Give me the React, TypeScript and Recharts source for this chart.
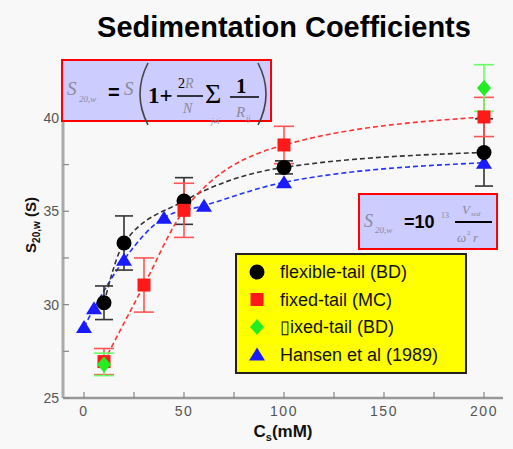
import React from 'react';
import { ComposedChart, Line, XAxis, YAxis, ErrorBar } from 'recharts';

// flexible-tail (BD)
const flexX = [10, 20, 50, 100, 200];
const flexY = [30.1, 33.3, 35.55, 37.35, 38.15];
const flexErr = [0.9, 1.45, 1.25, 0.35, 1.8];

// fixed-tail (MC)
const mcX = [10, 30, 50, 100, 200];
const mcY = [26.95, 31.05, 35.05, 38.55, 40.05];
const mcErr = [0.7, 1.45, 1.45, 1.0, 1.05];

// fixed-tail (BD)
const bdX = [10, 200];
const bdY = [26.8, 41.6];
const bdErr = [0.6, 1.25];

// Hansen et al (1989)
const hanX = [0, 5, 20, 40, 60, 100, 200];
const hanY = [28.8, 29.8, 32.4, 34.65, 35.3, 36.55, 37.6];

const xTicks = [0, 25, 50, 75, 100, 125, 150, 175, 200];
const xLabels = [0, 50, 100, 150, 200];
const yTicks = [25, 27.5, 30, 32.5, 35, 37.5, 40, 42.5];
const yLabels = [25, 30, 35, 40];

const legendNames = ['flexible-tail (BD)', 'fixed-tail (MC)', '\u25AFixed-tail (BD)', 'Hansen et al (1989)'];

const toRows = (xs: number[], ys: number[], es?: number[]) =>
  xs.map((x, i) => ({ x, y: ys[i], e: es ? es[i] : 0 }));

const flexData = toRows(flexX, flexY, flexErr);
const mcData = toRows(mcX, mcY, mcErr);
const bdData = toRows(bdX, bdY, bdErr);
const hanData = toRows(hanX, hanY);

const FONT = '"Liberation Sans", Arial, sans-serif';
const SERIF = '"Liberation Serif", "Times New Roman", serif';

function Marker({ kind, cx, cy, color }: { kind: string; cx: number; cy: number; color: string }) {
  if (kind === 'circle') return <circle cx={cx} cy={cy} r={7.5} fill={color} />;
  if (kind === 'square') return <rect x={cx - 6.5} y={cy - 6.5} width={13} height={13} fill={color} />;
  if (kind === 'diamond')
    return <polygon points={`${cx},${cy - 8} ${cx + 7},${cy} ${cx},${cy + 8} ${cx - 7},${cy}`} fill={color} />;
  return <polygon points={`${cx},${cy - 7} ${cx + 8},${cy + 6} ${cx - 8},${cy + 6}`} fill={color} />;
}

const dotOf = (kind: string, color: string) => (p: any) =>
  <Marker key={`${kind}-${p.index}`} kind={kind} cx={p.cx} cy={p.cy} color={color} />;

const BottomTick = (p: any) => {
  const { x, y, payload } = p;
  return (
    <g>
      <line x1={x} y1={y} x2={x} y2={y - 6} stroke="#888" strokeWidth={1.2} />
      {xLabels.includes(payload.value) && (
        <text x={x} y={y + 18} textAnchor="middle" fontSize={14} letterSpacing={1.5} fill="#555" fontFamily={FONT}>
          {payload.value}
        </text>
      )}
    </g>
  );
};

const TopTick = (p: any) => <line x1={p.x} y1={p.y} x2={p.x} y2={p.y + 6} stroke="#888" strokeWidth={1.2} />;

const LeftTick = (p: any) => {
  const { x, y, payload } = p;
  return (
    <g>
      <line x1={x} y1={y} x2={x + 6} y2={y} stroke="#888" strokeWidth={1.2} />
      {yLabels.includes(payload.value) && (
        <text x={x - 4} y={y + 5} textAnchor="end" fontSize={14} fill="#555" fontFamily={FONT}>
          {payload.value}
        </text>
      )}
    </g>
  );
};

const RightTick = (p: any) => <line x1={p.x} y1={p.y} x2={p.x - 6} y2={p.y} stroke="#888" strokeWidth={1.2} />;

function Overlay() {
  const grey = '#8a8a9a';
  const legendKinds = [
    ['circle', '#000000'],
    ['square', '#ff1a1a'],
    ['diamond', '#22ee22'],
    ['triangle', '#1a1aff'],
  ];
  return (
    <svg width={513} height={449} style={{ position: 'absolute', left: 0, top: 0, pointerEvents: 'none' }}>
      <text x={284} y={37} textAnchor="middle" fontSize={29} fontWeight="bold" fill="#000" fontFamily={FONT}>
        Sedimentation Coefficients
      </text>

      {/* axis titles */}
      <text x={283} y={437} textAnchor="middle" fontSize={17} fontWeight="bold" fill="#111" fontFamily={FONT}>
        C<tspan fontSize={11} dy={4}>s</tspan>
        <tspan dy={-4}>(mM)</tspan>
      </text>
      <text
        transform="translate(36,225) rotate(-90)"
        textAnchor="middle"
        fontSize={15}
        fontWeight="bold"
        fill="#111"
        fontFamily={FONT}
      >
        S<tspan fontSize={10} dy={4}>20,w</tspan>
        <tspan dy={-4}> (S)</tspan>
      </text>

      {/* formula 1 */}
      <rect x={62} y={60} width={209} height={61} fill="#ccccff" stroke="#ff0000" strokeWidth={2} />
      <text x={67} y={95} fontSize={19} fontStyle="italic" fill={grey} fontFamily={SERIF}>S</text>
      <text x={79} y={102} fontSize={9} fontStyle="italic" fill={grey} fontFamily={SERIF}>20,w</text>
      <text x={108} y={99} fontSize={20} fontWeight="bold" fill="#000" fontFamily={FONT}>=</text>
      <text x={124} y={95} fontSize={19} fontStyle="italic" fill={grey} fontFamily={SERIF}>S</text>
      <path d="M148,63 Q132,94 148,125" fill="none" stroke="#444" strokeWidth={1.6} />
      <text x={148} y={103} fontSize={23} fontWeight="bold" fill="#000" fontFamily={SERIF}>1+</text>
      <text x={178} y={88} fontSize={14} fill="#000" fontFamily={SERIF}>2</text>
      <text x={185} y={88} fontSize={14} fontStyle="italic" fill={grey} fontFamily={SERIF}>R</text>
      <line x1={177} y1={96} x2={203} y2={96} stroke="#000" strokeWidth={1.5} />
      <text x={183} y={113} fontSize={14} fontStyle="italic" fill={grey} fontFamily={SERIF}>N</text>
      <text x={205} y={103} fontSize={28} fill="#000" fontFamily={SERIF}>&#931;</text>
      <text x={211} y={124} fontSize={8} fontStyle="italic" fill={grey} fontFamily={SERIF}>j&#8800;i</text>
      <text x={236} y={93} fontSize={21} fontWeight="bold" fill="#000" fontFamily={SERIF}>1</text>
      <line x1={230} y1={97} x2={259} y2={97} stroke="#000" strokeWidth={1.5} />
      <text x={236} y={117} fontSize={15} fontStyle="italic" fill={grey} fontFamily={SERIF}>R</text>
      <text x={246} y={121} fontSize={8} fontStyle="italic" fill={grey} fontFamily={SERIF}>ij</text>
      <path d="M258,63 Q274,94 258,125" fill="none" stroke="#444" strokeWidth={1.6} />

      {/* formula 2 */}
      <rect x={359} y={194} width={138} height={55} fill="#ccccff" stroke="#ff0000" strokeWidth={2} />
      <text x={364} y={227} fontSize={18} fontStyle="italic" fill={grey} fontFamily={SERIF}>S</text>
      <text x={375} y={233} fontSize={9} fontStyle="italic" fill={grey} fontFamily={SERIF}>20,w</text>
      <text x={404} y={228} fontSize={18} fontWeight="bold" fill="#000" fontFamily={FONT}>=10</text>
      <text x={441} y={218} fontSize={8} fill={grey} fontFamily={SERIF}>13</text>
      <text x={462} y={214} fontSize={13} fontStyle="italic" fill={grey} fontFamily={SERIF}>V</text>
      <text x={471} y={216} fontSize={7} fontStyle="italic" fill={grey} fontFamily={SERIF}>sed</text>
      <line x1={455} y1={222} x2={492} y2={222} stroke="#000" strokeWidth={2} />
      <text x={457} y={242} fontSize={13} fontStyle="italic" fill={grey} fontFamily={SERIF}>&#969;</text>
      <text x={467} y={235} fontSize={7} fill={grey} fontFamily={SERIF}>2</text>
      <text x={473} y={242} fontSize={13} fontStyle="italic" fill={grey} fontFamily={SERIF}>r</text>

      {/* legend */}
      <rect x={236} y={254} width={230} height={119} fill="#ffff00" stroke="#222" strokeWidth={2} />
      {legendNames.map((name, i) => {
        const cy = 272 + i * 27.5;
        return (
          <g key={name}>
            <Marker kind={legendKinds[i][0]} cx={257} cy={cy} color={legendKinds[i][1]} />
            <text x={280} y={cy + 6} fontSize={18} fill="#111" fontFamily={FONT}>
              {name}
            </text>
          </g>
        );
      })}
    </svg>
  );
}

export default function App() {
  return (
    <div style={{ position: 'absolute', left: 0, top: 0, width: 513, height: 449, background: '#f8f8f8' }}>
      <ComposedChart width={513} height={449} margin={{ top: 60, right: 10, left: 0, bottom: 0 }}>
        <XAxis
          type="number"
          dataKey="x"
          domain={[-10.5, 209.5]}
          ticks={xTicks}
          interval={0}
          allowDataOverflow
          height={51}
          tickSize={0}
          tickMargin={0}
          tickLine={false}
          tick={BottomTick}
          axisLine={{ stroke: '#999', strokeWidth: 2.5 }}
        />
        <XAxis
          xAxisId="top"
          orientation="top"
          type="number"
          dataKey="x"
          domain={[-10.5, 209.5]}
          ticks={xTicks}
          interval={0}
          allowDataOverflow
          height={0}
          tickSize={0}
          tickMargin={0}
          tickLine={false}
          tick={TopTick}
          axisLine={{ stroke: '#aaa', strokeWidth: 2 }}
        />
        <YAxis
          type="number"
          domain={[25, 43.1]}
          ticks={yTicks}
          interval={0}
          allowDataOverflow
          width={63}
          tickSize={0}
          tickMargin={0}
          tickLine={false}
          tick={LeftTick}
          axisLine={{ stroke: '#aaa', strokeWidth: 3 }}
        />
        <YAxis
          yAxisId="right"
          orientation="right"
          type="number"
          domain={[25, 43.1]}
          ticks={yTicks}
          interval={0}
          allowDataOverflow
          width={0}
          tickSize={0}
          tickMargin={0}
          tickLine={false}
          tick={RightTick}
          axisLine={{ stroke: '#aaa', strokeWidth: 2 }}
        />

        <Line
          data={hanData}
          dataKey="y"
          type="monotone"
          stroke="#2233ff"
          strokeWidth={1.6}
          strokeDasharray="5 3"
          dot={dotOf('triangle', '#1a1aff')}
          activeDot={false}
          isAnimationActive={false}
        />
        <Line
          data={flexData}
          dataKey="y"
          type="monotone"
          stroke="#333"
          strokeWidth={1.6}
          strokeDasharray="5 3"
          dot={dotOf('circle', '#000000')}
          activeDot={false}
          isAnimationActive={false}
        >
          <ErrorBar dataKey="e" direction="y" width={9} stroke="#333" strokeWidth={1.6} />
        </Line>
        <Line
          data={mcData}
          dataKey="y"
          type="monotone"
          stroke="#ff3333"
          strokeWidth={1.6}
          strokeDasharray="5 3"
          dot={dotOf('square', '#ff1a1a')}
          activeDot={false}
          isAnimationActive={false}
        >
          <ErrorBar dataKey="e" direction="y" width={10} stroke="#ff5555" strokeWidth={1.6} />
        </Line>
        <Line
          data={bdData}
          dataKey="y"
          type="monotone"
          stroke="none"
          strokeWidth={0}
          dot={dotOf('diamond', '#22ee22')}
          activeDot={false}
          isAnimationActive={false}
        >
          <ErrorBar dataKey="e" direction="y" width={10} stroke="#66ff66" strokeWidth={1.6} />
        </Line>
      </ComposedChart>
      <Overlay />
    </div>
  );
}
